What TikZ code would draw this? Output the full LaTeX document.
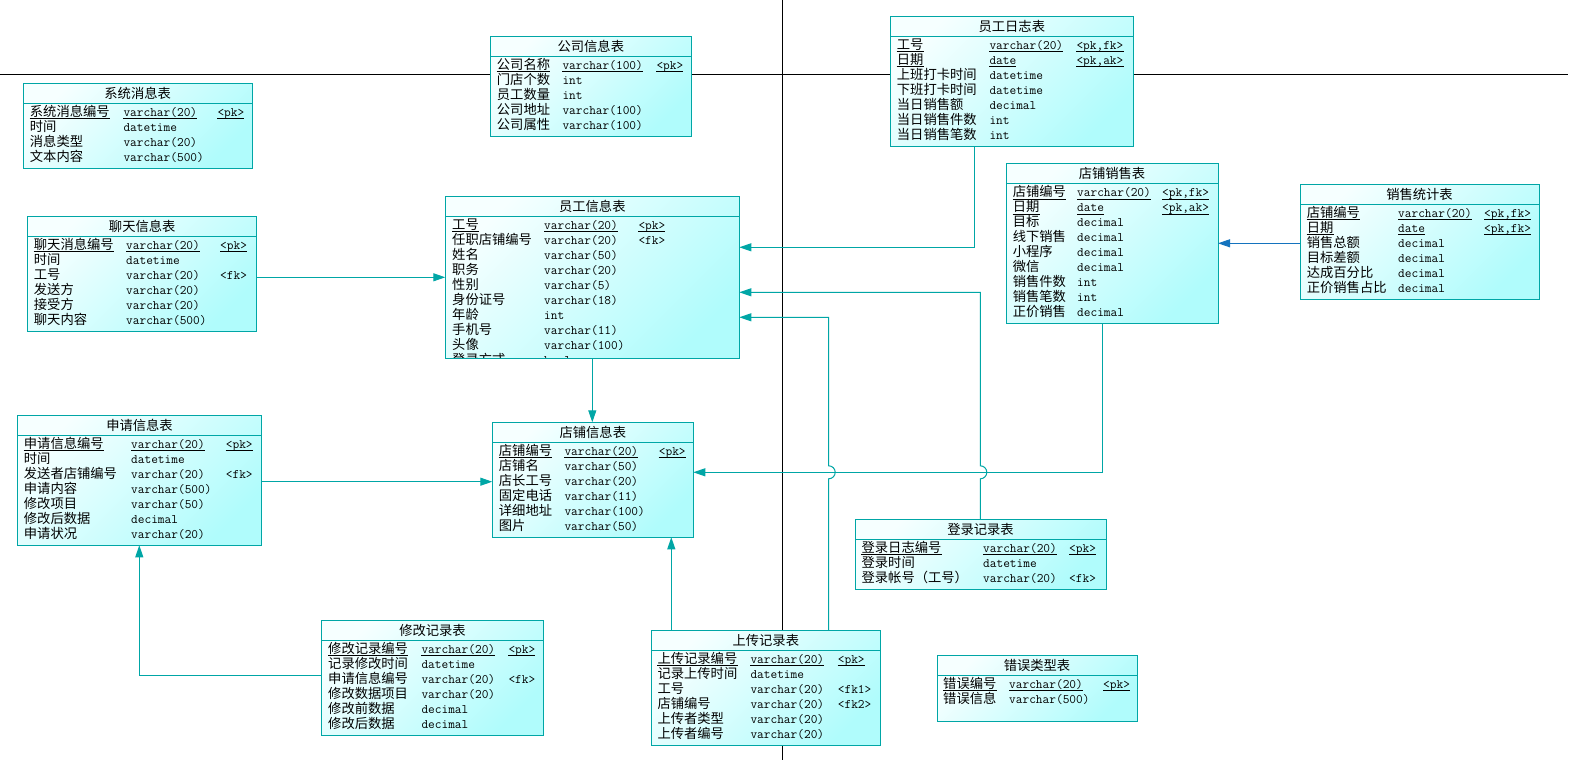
\documentclass[tikz,border=0pt]{standalone}
\usepackage{fontspec}
\newfontfamily\cjkfont{Noto Sans CJK SC}
\usetikzlibrary{arrows.meta,calc}
\definecolor{tealc}{RGB}{0,166,166}
\definecolor{shtl}{RGB}{246,255,255}
\definecolor{shbr}{RGB}{176,252,252}
\definecolor{bluec}{RGB}{20,115,190}
\newcommand{\ctxt}{\cjkfont\fontsize{13.3}{15}\selectfont}
\newcommand{\mtxt}{\ttfamily\fontsize{13}{15}\selectfont}
\tikzset{
 tbl/.style={draw=tealc, line width=1pt, top color=shtl, bottom color=shbr, shading angle=45, inner sep=0pt, outer sep=0pt, anchor=north west},
 tsep/.style={draw=tealc, line width=1pt},
 ttitle/.style={inner sep=0pt, font=\ctxt},
 rc/.style={inner sep=0pt, anchor=base west, font=\ctxt},
 rm/.style={inner sep=0pt, anchor=base west, font=\mtxt},
 uline/.style={line width=0.8pt, black},
 fk/.style={draw=tealc, line width=1pt, -{Triangle[width=8pt,length=12pt]}},
 fkb/.style={draw=bluec, line width=1pt, -{Triangle[width=8pt,length=12pt]}},
 frameline/.style={black, line width=1pt},
}
\newcommand{\ertable}[6]{%
 \node[tbl, minimum width=#4pt, minimum height=#5pt] (#1) at (#2,#3) {};
 \draw[tsep] ([yshift=-20pt]#1.north west) -- ([yshift=-20pt]#1.north east);
 \node[ttitle] (#1-h) at ([yshift=-10pt]#1.north) {#6};
}
\newcommand{\ercols}[3]{\def\erA{#1}\def\erB{#2}\def\erC{#3}}
\newcommand{\errow}[5]{%
 \pgfmathsetmacro\erY{-33.3-15*(#2-1)}%
 \node[rc] (#1-n#2) at ([xshift=\erA pt,yshift=\erY pt]#1.north west) {#3};
 \node[rm] (#1-t#2) at ([xshift=\erB pt,yshift=\erY pt]#1.north west) {#4};
 \node[rm] (#1-k#2) at ([xshift=\erC pt,yshift=\erY pt]#1.north west) {#5};
}
\newcommand{\erpk}[5]{%
 \errow{#1}{#2}{#3}{#4}{#5}%
 \foreach \ec in {n,t,k} {\draw[uline] ([yshift=-2.2pt]#1-\ec#2.base west) -- ([yshift=-2.2pt]#1-\ec#2.base east);}
}
\begin{document}
\begin{tikzpicture}[x=1pt,y=-1pt]
\fill[white] (0,0) rectangle (1574,760);
\useasboundingbox (0,0) rectangle (1574,760);
% frame lines
\draw[frameline] (0,74.3) -- (1568,74.3);
\draw[frameline] (782,0) -- (782,760);

% 系统消息表
\ertable{xt}{23.3}{83.3}{228.7}{85}{系统消息表}
\ercols{6.4}{100}{194}
\erpk{xt}{1}{系统消息编号}{varchar(20)}{<pk>}
\errow{xt}{2}{时间}{datetime}{}
\errow{xt}{3}{消息类型}{varchar(20)}{}
\errow{xt}{4}{文本内容}{varchar(500)}{}

% 公司信息表
\ertable{gs}{490.3}{36.3}{201}{100}{公司信息表}
\ercols{6.4}{72}{166}
\erpk{gs}{1}{公司名称}{varchar(100)}{<pk>}
\errow{gs}{2}{门店个数}{int}{}
\errow{gs}{3}{员工数量}{int}{}
\errow{gs}{4}{公司地址}{varchar(100)}{}
\errow{gs}{5}{公司属性}{varchar(100)}{}

% 员工日志表
\ertable{rz}{890.3}{16.3}{243}{130}{员工日志表}
\ercols{6.4}{99}{186}
\erpk{rz}{1}{工号}{varchar(20)}{<pk,fk>}
\erpk{rz}{2}{日期}{date}{<pk,ak>}
\errow{rz}{3}{上班打卡时间}{datetime}{}
\errow{rz}{4}{下班打卡时间}{datetime}{}
\errow{rz}{5}{当日销售额}{decimal}{}
\errow{rz}{6}{当日销售件数}{int}{}
\errow{rz}{7}{当日销售笔数}{int}{}

% 店铺销售表
\ertable{dx}{1006}{163.5}{212}{160}{店铺销售表}
\ercols{6.6}{71}{156}
\erpk{dx}{1}{店铺编号}{varchar(20)}{<pk,fk>}
\erpk{dx}{2}{日期}{date}{<pk,ak>}
\errow{dx}{3}{目标}{decimal}{}
\errow{dx}{4}{线下销售}{decimal}{}
\errow{dx}{5}{小程序}{decimal}{}
\errow{dx}{6}{微信}{decimal}{}
\errow{dx}{7}{销售件数}{int}{}
\errow{dx}{8}{销售笔数}{int}{}
\errow{dx}{9}{正价销售}{decimal}{}

% 销售统计表
\ertable{tj}{1300}{184.3}{239}{115}{销售统计表}
\ercols{6.6}{98}{184}
\erpk{tj}{1}{店铺编号}{varchar(20)}{<pk,fk>}
\erpk{tj}{2}{日期}{date}{<pk,fk>}
\errow{tj}{3}{销售总额}{decimal}{}
\errow{tj}{4}{目标差额}{decimal}{}
\errow{tj}{5}{达成百分比}{decimal}{}
\errow{tj}{6}{正价销售占比}{decimal}{}

% 聊天信息表
\ertable{lt}{27.7}{216.3}{229}{115}{聊天信息表}
\ercols{6}{98.3}{192.3}
\erpk{lt}{1}{聊天消息编号}{varchar(20)}{<pk>}
\errow{lt}{2}{时间}{datetime}{}
\errow{lt}{3}{工号}{varchar(20)}{<fk>}
\errow{lt}{4}{发送方}{varchar(20)}{}
\errow{lt}{5}{接受方}{varchar(20)}{}
\errow{lt}{6}{聊天内容}{varchar(500)}{}

% 员工信息表
\ertable{yg}{445.3}{196.3}{294}{162}{员工信息表}
\ercols{6.7}{98.7}{193}
\erpk{yg}{1}{工号}{varchar(20)}{<pk>}
\errow{yg}{2}{任职店铺编号}{varchar(20)}{<fk>}
\errow{yg}{3}{姓名}{varchar(50)}{}
\errow{yg}{4}{职务}{varchar(20)}{}
\errow{yg}{5}{性别}{varchar(5)}{}
\errow{yg}{6}{身份证号}{varchar(18)}{}
\errow{yg}{7}{年龄}{int}{}
\errow{yg}{8}{手机号}{varchar(11)}{}
\errow{yg}{9}{头像}{varchar(100)}{}
\begin{scope}
 \clip ([yshift=0.6pt]yg.south west) rectangle (yg.north east);
 \errow{yg}{10}{登录方式}{bool}{}
\end{scope}

% 申请信息表
\ertable{sq}{17.3}{415.3}{244.4}{130}{申请信息表}
\ercols{6.4}{113.7}{208.4}
\erpk{sq}{1}{申请信息编号}{varchar(20)}{<pk>}
\errow{sq}{2}{时间}{datetime}{}
\errow{sq}{3}{发送者店铺编号}{varchar(20)}{<fk>}
\errow{sq}{4}{申请内容}{varchar(500)}{}
\errow{sq}{5}{修改项目}{varchar(50)}{}
\errow{sq}{6}{修改后数据}{decimal}{}
\errow{sq}{7}{申请状况}{varchar(20)}{}

% 店铺信息表
\ertable{dp}{492.3}{422.3}{201}{115}{店铺信息表}
\ercols{6.4}{72}{166.4}
\erpk{dp}{1}{店铺编号}{varchar(20)}{<pk>}
\errow{dp}{2}{店铺名}{varchar(50)}{}
\errow{dp}{3}{店长工号}{varchar(20)}{}
\errow{dp}{4}{固定电话}{varchar(11)}{}
\errow{dp}{5}{详细地址}{varchar(100)}{}
\errow{dp}{6}{图片}{varchar(50)}{}

% 登录记录表
\ertable{dl}{855}{519.3}{251}{70}{登录记录表}
\ercols{6.4}{128}{214}
\erpk{dl}{1}{登录日志编号}{varchar(20)}{<pk>}
\errow{dl}{2}{登录时间}{datetime}{}
\errow{dl}{3}{登录帐号（工号）}{varchar(20)}{<fk>}

% 修改记录表
\ertable{xg}{321.7}{620.3}{221.6}{115}{修改记录表}
\ercols{6.3}{99.6}{186.6}
\erpk{xg}{1}{修改记录编号}{varchar(20)}{<pk>}
\errow{xg}{2}{记录修改时间}{datetime}{}
\errow{xg}{3}{申请信息编号}{varchar(20)}{<fk>}
\errow{xg}{4}{修改数据项目}{varchar(20)}{}
\errow{xg}{5}{修改前数据}{decimal}{}
\errow{xg}{6}{修改后数据}{decimal}{}

% 上传记录表
\ertable{sc}{651.3}{630.3}{229}{115}{上传记录表}
\ercols{6}{99}{186.4}
\erpk{sc}{1}{上传记录编号}{varchar(20)}{<pk>}
\errow{sc}{2}{记录上传时间}{datetime}{}
\errow{sc}{3}{工号}{varchar(20)}{<fk1>}
\errow{sc}{4}{店铺编号}{varchar(20)}{<fk2>}
\errow{sc}{5}{上传者类型}{varchar(20)}{}
\errow{sc}{6}{上传者编号}{varchar(20)}{}

% 错误类型表
\ertable{cw}{937}{655.3}{200}{66}{错误类型表}
\ercols{6}{72}{166}
\erpk{cw}{1}{错误编号}{varchar(20)}{<pk>}
\errow{cw}{2}{错误信息}{varchar(500)}{}

% connectors
\draw[fk] (rz.south -| 974.3,0) |- (yg.east |- 0,247.3);
\draw[fk] (lt.east |- 0,277.3) -- (yg.west |- 0,277.3);
\draw[fk] (dl.north -| 980.3,0) -- (980.3,478.8) arc[start angle=-90,end angle=90,radius=6.5pt] |- (yg.east |- 0,292.3);
\draw[fk] (sc.north -| 828.7,0) -- (828.7,478.8) arc[start angle=-90,end angle=90,radius=6.5pt] |- (yg.east |- 0,317.3);
\draw[fk] (sc.north -| 671.3,0) -- (dp.south -| 671.3,0);
\draw[fk] (yg.south -| 592.3,0) -- (dp.north -| 592.3,0);
\draw[fk] (sq.east |- 0,481.7) -- (dp.west |- 0,481.7);
\draw[fk] (dx.south -| 1102,0) |- (dp.east |- 0,472.3);
\draw[fk] (xg.west |- 0,675.3) -| (sq.south -| 139.3,0);
\draw[fkb] (tj.west |- 0,243.3) -- (dx.east |- 0,243.3);
\end{tikzpicture}
\end{document}
